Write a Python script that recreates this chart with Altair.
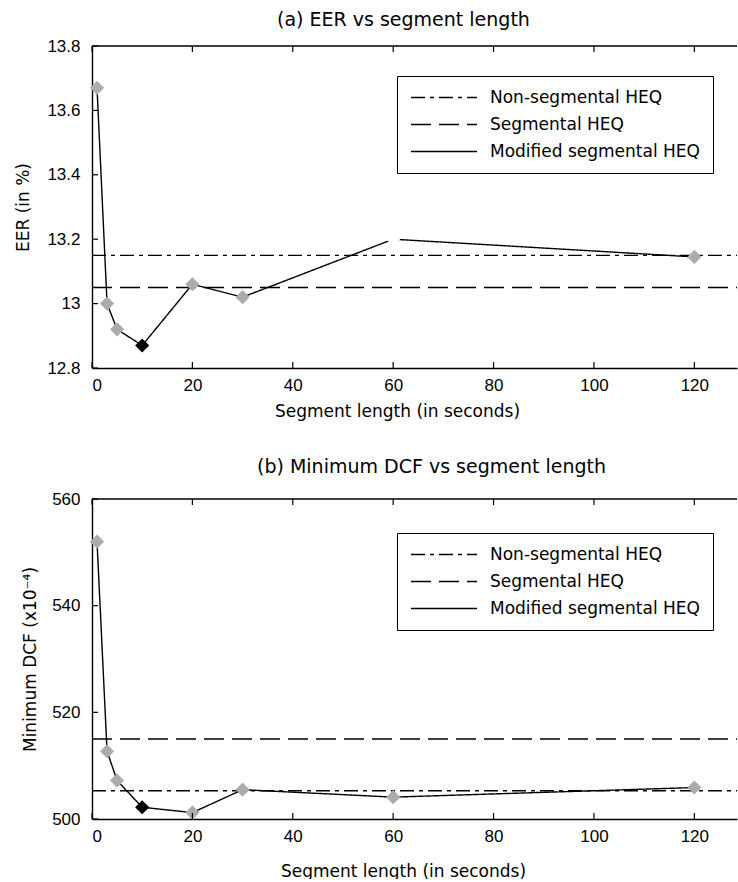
import altair as alt
import pandas as pd

# ---- data ----
seg_lengths = [1, 3, 5, 10, 20, 30, 60, 120]
eer_modified = [13.67, 13.00, 12.92, 12.87, 13.06, 13.02, 13.20, 13.145]
eer_nonseg = 13.15
eer_seg = 13.05
dcf_modified = [552.0, 512.7, 507.2, 502.2, 501.2, 505.5, 504.1, 505.9]
dcf_nonseg = 505.3
dcf_seg = 515.0

series_names = ["Non-segmental HEQ", "Segmental HEQ", "Modified segmental HEQ"]
x_ticks = [0, 20, 40, 60, 80, 100, 120]
eer_ticks = [12.8, 13.0, 13.2, 13.4, 13.6, 13.8]
dcf_ticks = [500, 520, 540, 560]
best_length = 10
hidden_length_a = 60

FONT = "DejaVu Sans"
TICK_FONT = "Liberation Sans"
W = 645
X_MAX = 128.5
TICK = 6


def panel(title, values, nonseg, seg, yticks, ydom, ytitle, h,
          title_dx, title_offset, xt_x, xt_y, yt_x, leg_y, hide_pt=None):
    pts = pd.DataFrame({"x": seg_lengths, "y": values, "series": series_names[2]})
    const = pd.DataFrame({"y": [nonseg, seg], "series": series_names[:2]})
    xt = pd.DataFrame({"x": x_ticks})
    yt = pd.DataFrame({"y": yticks})
    top = pd.DataFrame({"y": [ydom[1]]})

    xs = alt.Scale(domain=[0, X_MAX], nice=False, zero=False)
    ys = alt.Scale(domain=ydom, nice=False, zero=False)
    X = alt.X("x:Q", scale=xs, axis=alt.Axis(
        values=x_ticks, ticks=False, grid=False, domainColor="black", domainWidth=1.4,
        labelFont=TICK_FONT, labelFontSize=17, labelColor="black", labelPadding=9,
        title="Segment length (in seconds)", titleFont=FONT, titleFontSize=17,
        titleFontWeight="normal", titleColor="black", titleX=xt_x, titleY=xt_y,
        titleAlign="center", titleBaseline="middle"))
    Y = alt.Y("y:Q", scale=ys, axis=alt.Axis(
        values=yticks, format="~r", ticks=False, grid=False, domainColor="black",
        domainWidth=1.4, labelFont=TICK_FONT, labelFontSize=17, labelColor="black",
        labelPadding=12, title=ytitle, titleFont=FONT, titleFontSize=17,
        titleFontWeight="normal", titleColor="black", titleX=yt_x, titleY=h / 2,
        titleAngle=270, titleAlign="center", titleBaseline="middle"))

    dash = alt.StrokeDash("series:N", scale=alt.Scale(
        domain=series_names, range=[[14, 5, 4, 5], [20, 8], [1, 0]]),
        legend=alt.Legend(
            title=None, orient="none", legendX=305, legendY=leg_y,
            symbolType="stroke", symbolSize=66 * 66, symbolStrokeWidth=1.3,
            symbolStrokeColor="black", labelFont=FONT, labelFontSize=17,
            labelColor="black", labelOffset=12, labelLimit=400, padding=13,
            clipHeight=17, rowPadding=9, strokeColor="black", fillColor="white"))

    rules = alt.Chart(const).mark_rule(color="black", strokeWidth=1.3).encode(
        y=Y, x=alt.value(0), x2=alt.value(W), strokeDash=dash)
    line = alt.Chart(pts).mark_line(color="black", strokeWidth=1.4).encode(
        x=X, y=Y, strokeDash=dash)
    conds = [{"test": f"datum.x == {best_length}", "value": "black"}]
    if hide_pt is not None:
        conds.append({"test": f"datum.x == {hide_pt}", "value": "white"})
    marks = alt.Chart(pts).mark_point(shape="diamond", filled=True, size=200,
                                      opacity=1, strokeWidth=0).encode(
        x=X, y=Y, color={"value": "#ababab", "condition": conds})
    bt = alt.Chart(xt).mark_rule(color="black", strokeWidth=1.2).encode(
        x=X, y=alt.value(h), y2=alt.value(h - TICK))
    tt = alt.Chart(xt).mark_rule(color="black", strokeWidth=1.2).encode(
        x=X, y=alt.value(0), y2=alt.value(TICK))
    lt = alt.Chart(yt).mark_rule(color="black", strokeWidth=1.2).encode(
        y=Y, x=alt.value(0), x2=alt.value(TICK))
    frame = alt.Chart(top).mark_rule(color="black", strokeWidth=1.4).encode(
        y=Y, x=alt.value(0), x2=alt.value(W))

    return alt.layer(rules, line, marks, bt, tt, lt, frame).properties(
        width=W, height=h,
        title=alt.TitleParams(title, anchor="start", frame="group", dx=title_dx,
                              offset=title_offset, font=FONT, fontSize=19,
                              fontWeight="normal", color="black"))


pa = panel("(a) EER vs segment length", eer_modified, eer_nonseg, eer_seg,
           eer_ticks, [12.8, 13.8], "EER (in %)", 322, 185, 7, 305, 43, -69, 30,
           hide_pt=hidden_length_a)
pb = panel("(b) Minimum DCF vs segment length", dcf_modified, dcf_nonseg, dcf_seg,
           dcf_ticks, [500, 560], "Minimum DCF (x10\u207b\u2074)", 320, 165, 13, 311, 52, -62, 34)

chart = alt.vconcat(pa, pb, spacing=131, bounds="flush").resolve_scale(
    x="independent", y="independent", strokeDash="independent").resolve_legend(
    strokeDash="independent").properties(
    padding={"left": 14, "top": 11, "right": 0, "bottom": 0},
    background="white").configure_view(stroke=None)

chart.save("out.html", embed_options={"renderer": "svg", "actions": False})
